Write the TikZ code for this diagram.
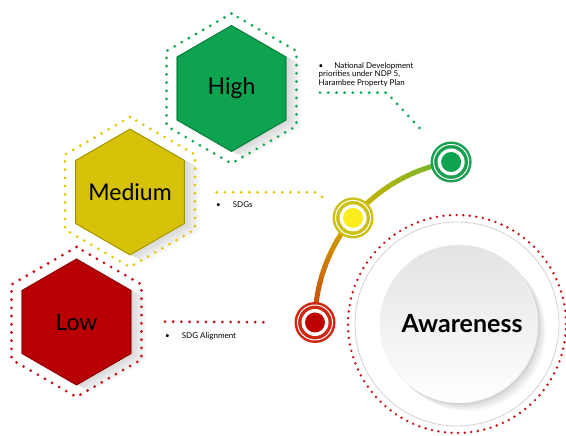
\documentclass[tikz,border=0pt]{standalone}
\usepackage{fontspec}
\setmainfont{Lato}
\usepackage{xcolor}
\usetikzlibrary{positioning,calc}

\definecolor{HighGreen}{RGB}{14,163,80}
\definecolor{HighDots}{RGB}{20,168,86}
\definecolor{MedYellow}{RGB}{214,194,8}
\definecolor{MedDots}{RGB}{228,200,10}
\definecolor{LowRed}{RGB}{184,0,4}
\definecolor{LowDots}{RGB}{204,16,24}
\definecolor{ArcRed}{RGB}{200,64,10}
\definecolor{ArcGold}{RGB}{212,178,0}
\definecolor{ArcGreen}{RGB}{104,184,52}
\definecolor{HighRing}{RGB}{26,160,80}
\definecolor{MedRing}{RGB}{204,192,20}
\definecolor{MedDot}{RGB}{252,238,30}
\definecolor{LowRing}{RGB}{206,40,20}
\definecolor{LowDot}{RGB}{190,0,0}

\newcommand{\hexpath}[1]{(90:#1) -- (150:#1) -- (210:#1) -- (270:#1) -- (330:#1) -- (30:#1) -- cycle}

\tikzset{
	hexdots/.style={line width=3.1pt, line cap=round, dash pattern=on 0pt off 8.2pt},
	linkdots/.style={line width=3.1pt, line cap=round, dash pattern=on 0pt off 8.2pt},
	ringdots/.style={line width=2.7pt, line cap=round, dash pattern=on 0pt off 6.6pt},
	hexlabel/.style={font=\fontsize{23}{26}\selectfont, text=black},
	bullettext/.style={font=\fontsize{8}{8.7}\selectfont, align=left, inner sep=0pt},
	tgt/.style 2 args={circle, inner sep=0pt, minimum size=41pt, fill=#1,
		path picture={
			\draw[white, line width=1pt] (path picture bounding box.center) circle (17.5pt);
			\fill[white] (path picture bounding box.center) circle (13.5pt);
			\fill[#2] (path picture bounding box.center) circle (10pt);}},
}

\begin{document}
\begin{tikzpicture}[x=1pt, y=1pt]
	\useasboundingbox (0,0) rectangle (566,436);

	% hexagons
	\foreach \cx/\cy/\fc/\dc/\nm/\txt in {76.5/114/LowRed/LowDots/low/Low,
		130/244/MedYellow/MedDots/medium/Medium, 231.5/347.5/HighGreen/HighDots/high/High}{
		\begin{scope}[shift={(\cx,\cy)}]
			\foreach \s in {3,6,9,12,15} \fill[black, opacity=0.03, xshift=\s, yshift=-\s/2] \hexpath{63};
			\draw[hexdots, \dc] \hexpath{75};
			\fill[\fc] \hexpath{63.5};
			\draw[\fc!75!black, line width=0.8pt] \hexpath{62.8};
			\node[hexlabel] (\nm) at (0,0) {\txt};
		\end{scope}
	}

	% awareness circle
	\coordinate (awc) at (459,112);
	\draw[ringdots, LowDots] (457,112) circle (109);
	\draw[gray!35, line width=0.8pt] (457,112) circle (102);
	\foreach \s/\o in {2/0.06, 4/0.05, 6/0.04, 8/0.03} \fill[black, opacity=\o] ($(awc)+(\s,-\s)$) circle (79);
	\node[circle, minimum size=158pt, inner sep=0pt, top color=gray!22, bottom color=white,
		draw=gray!15, font=\fontsize{25}{28}\selectfont\bfseries] (aware) at (awc) {\hspace{6pt}Awareness};

	% gradient arc
	\coordinate (arcc) at (477.7,113.5);
	\foreach \i in {0,...,39}{
		\pgfmathsetmacro\a{180-\i*2.015}
		\pgfmathtruncatemacro\p{mod(\i,20)*5}
		\ifnum\i<20 \colorlet{arcseg}{ArcGold!\p!ArcRed}\else\colorlet{arcseg}{ArcGreen!\p!ArcGold}\fi
		\draw[arcseg, line width=5pt] ($(arcc)+(\a:162.7)$) arc[start angle=\a, end angle=\a-2.4, radius=162.7];
	}

	% targets
	\node[tgt={LowRing}{LowDot}] (lowtgt) at ($(arcc)+(180:162.7)$) {};
	\node[tgt={MedRing}{MedDot}] (medtgt) at ($(arcc)+(140:162.7)$) {};
	\node[tgt={HighRing}{HighGreen}] (hightgt) at ($(arcc)+(99.4:162.7)$) {};

	% dotted links
	\coordinate (hl1) at (320,343.3); \coordinate (hl2) at (386.7,343.3);
	\coordinate (ml1) at (216.7,243.7); \coordinate (ml2) at (315,243.7);
	\coordinate (ll1) at (165,114.3);
	\draw[linkdots, HighDots, shorten >=18pt] (hl1) -- (hl2) -- (hightgt);
	\draw[linkdots, MedDots, shorten >=10pt] (ml1) -- (ml2) -- (medtgt);
	\draw[linkdots, LowDots, shorten >=23pt] (ll1) -- (lowtgt);

	% bullet texts
	\node[bullettext, anchor=north west] (hightxt) at (318.5,373.8)
		{\textbullet\hspace{11pt}National Development\\priorities under NDP 5,\\Harambee Property Plan};
	\node[bullettext, anchor=west] (medtxt) at (216,231) {\textbullet\hspace{12pt}SDGs};
	\node[bullettext, anchor=west] (lowtxt) at (165,100) {\textbullet\hspace{12pt}SDG Alignment};
\end{tikzpicture}
\end{document}
